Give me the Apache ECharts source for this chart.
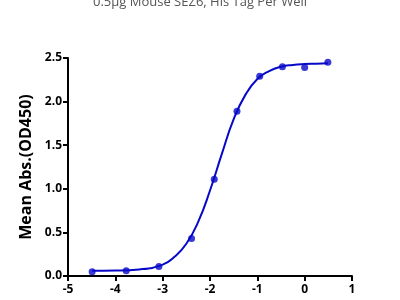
<!DOCTYPE html>
<html><head><meta charset="utf-8">
<script src="https://cdn.jsdelivr.net/npm/echarts@6/dist/echarts.min.js"></script>
<style>html,body{margin:0;padding:0;background:#fff}#c{width:400px;height:300px}</style>
</head><body><div id="c"></div>
<script>
// measured points (log concentration, OD450)
const pointX = [-4.49, -3.77, -3.08, -2.39, -1.91, -1.43, -0.95, -0.47, 0.0, 0.49];
const pointY = [0.05, 0.06, 0.11, 0.43, 1.11, 1.89, 2.29, 2.40, 2.39, 2.45];
// fitted curve
const curveX = [-4.49, -4.0, -3.5, -3.0, -2.75, -2.5, -2.25, -2.0, -1.75, -1.5, -1.25, -1.0, -0.75, -0.5, -0.25, 0.0, 0.25, 0.49];
const curveY = [0.06, 0.062, 0.075, 0.13, 0.22, 0.37, 0.62, 0.98, 1.40, 1.80, 2.08, 2.26, 2.35, 2.40, 2.42, 2.43, 2.435, 2.44];
const xTicks = [-5, -4, -3, -2, -1, 0, 1];
const yTicks = [0.0, 0.5, 1.0, 1.5, 2.0, 2.5];
const titleText = '0.5μg Mouse SEZ6, His Tag Per Well';
const yName = 'Mean Abs.(OD450)';

const blue = '#0808c8';
const chart = echarts.init(document.getElementById('c'));
chart.setOption({
  animation: false,
  title: {text: titleText, left: 'center', top: -9,
    textStyle: {fontFamily: 'Open Sans', fontWeight: 'normal', fontSize: 13, color: '#555'}},
  grid: {left: 68, right: 48, top: 58, bottom: 24},
  xAxis: {type: 'value', min: xTicks[0], max: xTicks[xTicks.length-1], interval: 1,
    axisLine: {onZero: false, lineStyle: {color: '#000', width: 2}},
    axisTick: {lineStyle: {color: '#000', width: 2}, length: 5},
    splitLine: {show: false},
    axisLabel: {color: '#000', fontWeight: 'bold', fontSize: 12, fontFamily: 'Open Sans', margin: 8}},
  yAxis: {type: 'value', min: yTicks[0], max: yTicks[yTicks.length-1], interval: 0.5,
    name: yName, nameLocation: 'middle', nameGap: 33,
    nameTextStyle: {fontWeight: 'bold', fontSize: 16, color: '#000', fontFamily: 'Open Sans'},
    axisLine: {show: true, onZero: false, lineStyle: {color: '#000', width: 2}},
    axisTick: {show: true, lineStyle: {color: '#000', width: 2}, length: 5},
    splitLine: {show: false},
    axisLabel: {color: '#000', fontWeight: 'bold', fontSize: 12, fontFamily: 'Open Sans', margin: 6,
      formatter: v => v.toFixed(1)}},
  series: [
    {type: 'line', data: curveX.map((x, i) => [x, curveY[i]]), smooth: true, showSymbol: false,
      lineStyle: {color: blue, width: 2}, z: 2},
    {type: 'scatter', data: pointX.map((x, i) => [x, pointY[i]]), symbolSize: 7,
      itemStyle: {color: blue}, z: 3}
  ]
});
</script></body></html>
